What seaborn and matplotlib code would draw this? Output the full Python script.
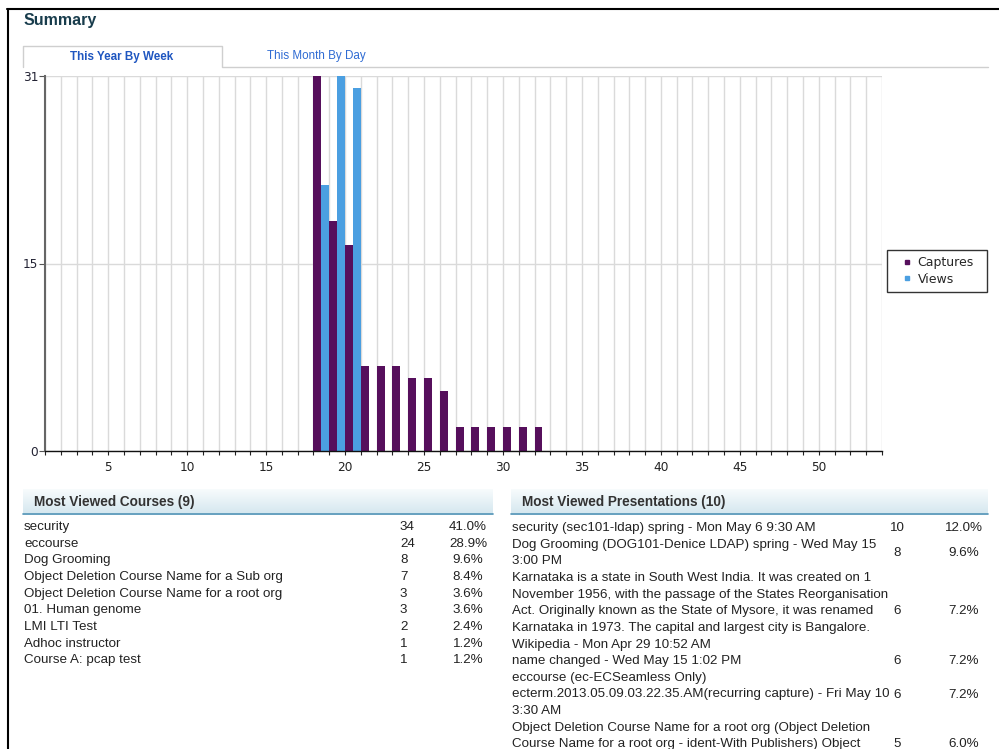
import numpy as np
import pandas as pd
import matplotlib
matplotlib.use("Agg")
import matplotlib.pyplot as plt
import seaborn as sns
from matplotlib.lines import Line2D
from matplotlib.patches import Rectangle

# weekly activity (weeks with any data)
weeks = list(range(18, 33))
captures = [31, 19, 17, 7, 7, 7, 6, 6, 5, 2, 2, 2, 2, 2, 2]
views = [22, 31, 30, 0, 0, 0, 0, 0, 0, 0, 0, 0, 0, 0, 0]
series_names = ["Captures", "Views"]
series_colors = ["#560f5c", "#4b9fe1"]

course_names = ["security", "eccourse", "Dog Grooming",
                "Object Deletion Course Name for a Sub org",
                "Object Deletion Course Name for a root org",
                "01. Human genome", "LMI LTI Test", "Adhoc instructor",
                "Course A: pcap test"]
course_counts = [34, 24, 8, 7, 3, 3, 2, 1, 1]
course_pcts = ["41.0%", "28.9%", "9.6%", "8.4%", "3.6%", "3.6%", "2.4%", "1.2%", "1.2%"]

pres_names = [
    "security (sec101-ldap) spring - Mon May 6 9:30 AM",
    "Dog Grooming (DOG101-Denice LDAP) spring - Wed May 15\n3:00 PM",
    "Karnataka is a state in South West India. It was created on 1\n"
    "November 1956, with the passage of the States Reorganisation\n"
    "Act. Originally known as the State of Mysore, it was renamed\n"
    "Karnataka in 1973. The capital and largest city is Bangalore.\n"
    "Wikipedia - Mon Apr 29 10:52 AM",
    "name changed - Wed May 15 1:02 PM",
    "eccourse (ec-ECSeamless Only)\n"
    "ecterm.2013.05.09.03.22.35.AM(recurring capture) - Fri May 10\n3:30 AM",
    "Object Deletion Course Name for a root org (Object Deletion\n"
    "Course Name for a root org - ident-With Publishers) Object",
]
pres_counts = [10, 8, 6, 6, 6, 5]
pres_pcts = ["12.0%", "9.6%", "7.2%", "7.2%", "7.2%", "6.0%"]
pres_rows = [1, 2, 5, 1, 3, 3]  # last entry runs past the bottom of the page

sns.set_style("white")
plt.rcParams["font.family"] = ["DejaVu Sans"]

W, H = 999, 749
fig = plt.figure(figsize=(W / 100, H / 100), dpi=100)


def fx(x):
    return x / W


def fy(y):
    return 1 - y / H


# page border
fig.add_artist(Line2D([fx(7), 1], [fy(9), fy(9)], color="black", lw=1.5))
fig.add_artist(Line2D([fx(8), fx(8)], [fy(9), 0], color="black", lw=1.5))

fig.text(fx(24), fy(20), "Summary", fontsize=11.5, fontweight="bold",
         color="#183c4c", family="Liberation Sans", va="center")

# tabs
tab_col = "#cfcfcf"
fig.add_artist(Line2D([fx(23), fx(23), fx(222), fx(222), fx(988)],
                      [fy(67), fy(46), fy(46), fy(67), fy(67)], color=tab_col, lw=1))
fig.text(fx(122), fy(57), "This Year By Week", fontsize=8.4, fontweight="bold",
         color="#1f56c0", family="Liberation Sans", ha="center", va="center")
fig.text(fx(316), fy(56), "This Month By Day", fontsize=8.4, color="#2f6bd3",
         family="Liberation Sans", ha="center", va="center")

# bar chart
df = pd.DataFrame({
    "week": weeks * 2,
    "count": captures + views,
    "series": [series_names[0]] * len(weeks) + [series_names[1]] * len(weeks),
})
df["center"] = df["week"] + 0.5

ax = fig.add_axes([fx(45), fy(451), (882 - 45) / W, (451 - 76) / H])
sns.barplot(data=df, x="center", y="count", hue="series", native_scale=True,
            width=1, palette=dict(zip(series_names, series_colors)),
            saturation=1, errorbar=None, linewidth=0, legend=False, ax=ax)
ax.set_xlim(1, 54)
ax.set_ylim(0, 31)
ax.set_xticks(np.arange(5, 51, 5))
ax.set_xticklabels([str(v) for v in range(5, 51, 5)])
ax.set_xticks(np.arange(1, 55), minor=True)
ax.set_yticks([0, 15.5, 31])
ax.set_yticklabels(["0", "15", "31"])
ax.set_xlabel("")
ax.set_ylabel("")
ax.grid(True, axis="x", which="both", color="#dadada", lw=1.0)
ax.grid(True, axis="y", which="major", color="#dadada", lw=1.0)
ax.set_axisbelow(True)
ax.tick_params(axis="x", which="both", direction="out", length=3, width=0.8,
               color="#222222", labelsize=8.7, labelcolor="#222222", pad=4, bottom=True)
ax.tick_params(axis="y", direction="out", length=4, width=0.8, color="#555555",
               labelsize=8.7, labelcolor="#222233", pad=1, left=True)
for s in ["top", "right"]:
    ax.spines[s].set_visible(False)
ax.spines["left"].set_color("#666666")
ax.spines["left"].set_linewidth(1.5)
ax.spines["bottom"].set_color("#111111")
ax.spines["bottom"].set_linewidth(1.0)

# legend box
fig.add_artist(Rectangle((fx(887), fy(292)), 100 / W, 42 / H, transform=fig.transFigure,
                         facecolor="white", edgecolor="#333333", lw=1))
handles = [Line2D([], [], marker="s", ls="none", markersize=3.5, color=c) for c in series_colors]
fig.legend(handles, series_names, loc="upper left", bbox_to_anchor=(fx(904), fy(256)),
           frameon=False, fontsize=9, handlelength=0.5, handletextpad=0.6,
           labelspacing=0.3, borderpad=0, borderaxespad=0)

# table headers with a soft gradient
grad = np.linspace(0, 1, 30).reshape(-1, 1)
top_c = np.array([0.97, 0.985, 0.99])
bot_c = np.array([0.84, 0.91, 0.94])
grad_img = top_c + grad[..., None] * (bot_c - top_c)


def header(x0, x1, title, tx):
    hax = fig.add_axes([fx(x0), fy(513), (x1 - x0) / W, (513 - 489) / H])
    hax.imshow(grad_img.repeat(2, axis=1), aspect="auto", extent=(0, 1, 0, 1))
    hax.axis("off")
    fig.add_artist(Line2D([fx(x0), fx(x1)], [fy(513.5), fy(513.5)], color="#4b90b4", lw=1.2))
    fig.text(fx(tx), fy(502), title, fontsize=9.8, fontweight="bold", color="#333333",
             family="Liberation Sans", va="center")


header(23, 493, f"Most Viewed Courses ({len(course_names)})", 34)
header(511, 988, "Most Viewed Presentations (10)", 522)

row_h = 16.65
txt = dict(fontsize=9.6, color="#222222", family="Liberation Sans", va="center")

for i, (name, cnt, pct) in enumerate(zip(course_names, course_counts, course_pcts)):
    y = 527 + i * row_h
    fig.text(fx(24), fy(y), name, **txt)
    fig.text(fx(400), fy(y), str(cnt), **txt)
    fig.text(fx(468), fy(y), pct, ha="center", **txt)

line = 0
for name, cnt, pct, n in zip(pres_names, pres_counts, pres_pcts, pres_rows):
    for k, part in enumerate(name.split("\n")):
        fig.text(fx(512), fy(528 + (line + k) * row_h), part, **txt)
    yc = 528 + (line + (n - 1) / 2) * row_h
    fig.text(fx(897), fy(yc), str(cnt), ha="center", **txt)
    fig.text(fx(964), fy(yc), pct, ha="center", **txt)
    line += n

fig.savefig("out.png", dpi=100)
